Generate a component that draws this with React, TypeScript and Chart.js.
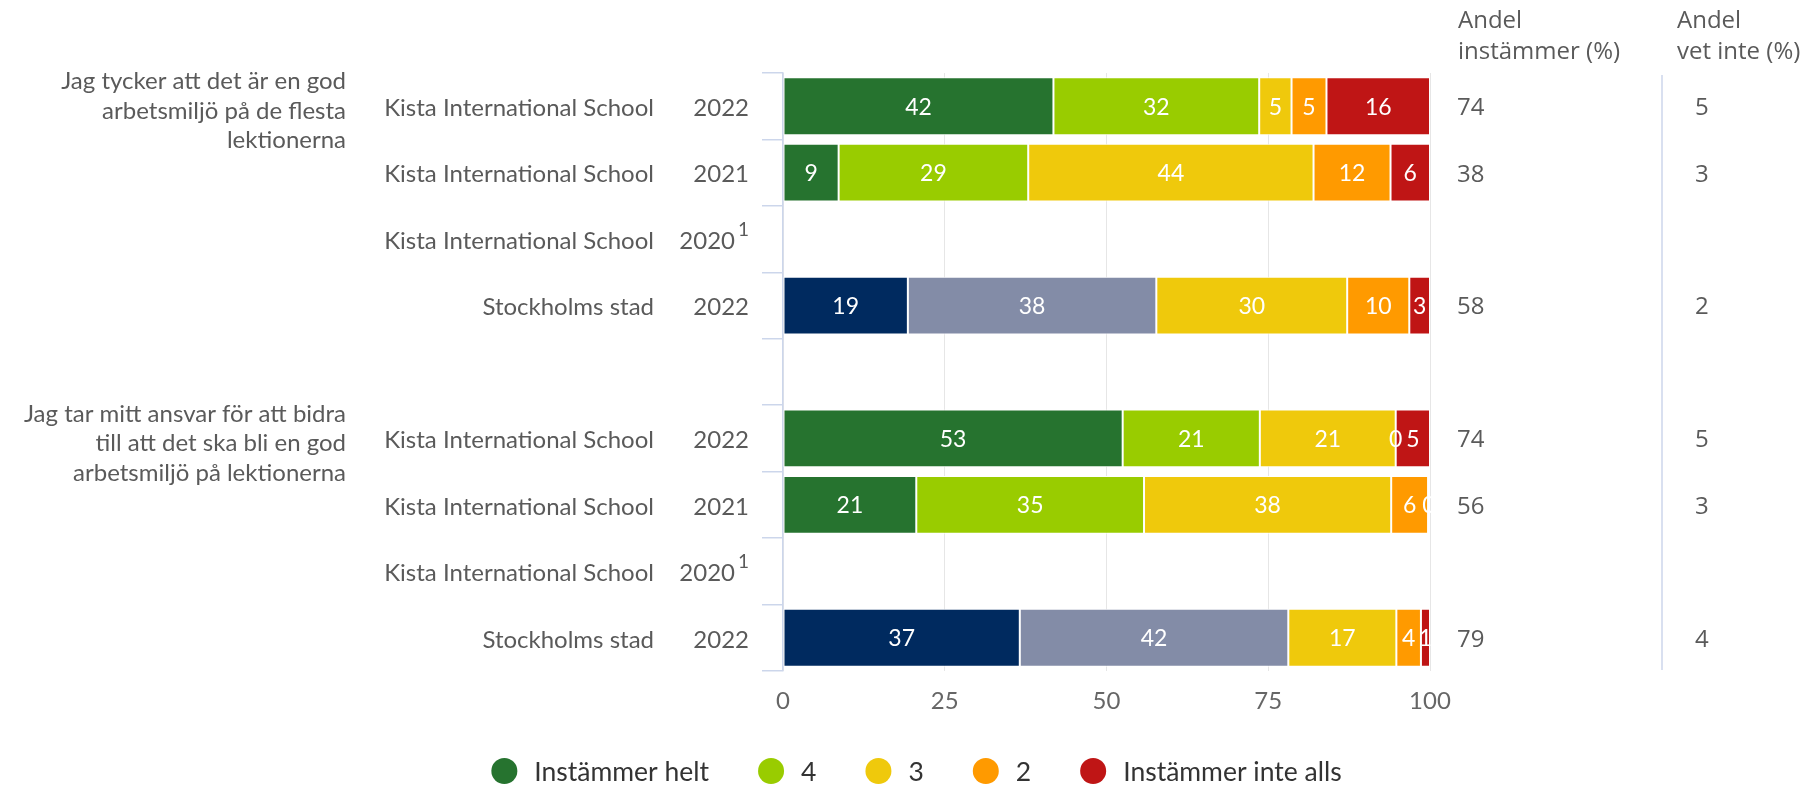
import React, { useEffect, useRef } from "react";
import { Chart, registerables } from "chart.js";

Chart.register(...registerables);

// ---- Data ----
const questionLines: string[][] = [
  ["Jag tycker att det är en god", "arbetsmiljö på de flesta", "lektionerna"],
  ["Jag tar mitt ansvar för att bidra", "till att det ska bli en god", "arbetsmiljö på lektionerna"],
];
const questionRows = [0, 5];

const rowUnits = [
  "Kista International School",
  "Kista International School",
  "Kista International School",
  "Stockholms stad",
  "",
  "Kista International School",
  "Kista International School",
  "Kista International School",
  "Stockholms stad",
];
const rowYears = ["2022", "2021", "2020", "2022", "", "2022", "2021", "2020", "2022"];
const rowFootnote = ["", "", "1", "", "", "", "", "1", ""];
const rowIsCity = [false, false, false, true, false, false, false, false, true];

const seriesNames = ["Instämmer helt", "4", "3", "2", "Instämmer inte alls"];
const seriesColors = ["#26732f", "#99cc00", "#efc90c", "#ff9a00", "#bf1515"];
const cityColors = ["#002a5f", "#838ca7"];

const instammerHelt = [41.8, 8.6, null, 19.3, null, 52.5, 20.6, null, 36.6];
const svar4 = [31.8, 29.3, null, 38.4, null, 21.2, 35.2, null, 41.5];
const svar3 = [5.0, 44.1, null, 29.5, null, 21.0, 38.2, null, 16.7];
const svar2 = [5.4, 11.9, null, 9.6, null, 0, 5.7, null, 3.8];
const instammerInteAlls = [16.0, 6.1, null, 3.2, null, 5.3, 0.3, null, 1.4];

const andelInstammer = [74, 38, null, 58, null, 74, 56, null, 79];
const andelVetInte = [5, 3, null, 2, null, 5, 3, null, 4];

const xTicks = [0, 25, 50, 75, 100];

const colHeaders = [
  ["Andel", "instämmer (%)"],
  ["Andel", "vet inte (%)"],
];

// ---- Style ----
const FONT = "Lato, 'Noto Sans', sans-serif";
const FONT2 = "'Open Sans', 'Noto Sans', sans-serif";
const TEXT = "#5a5a5a";

const seriesData = [instammerHelt, svar4, svar3, svar2, instammerInteAlls];

const overlayPlugin = {
  id: "overlay",
  afterDatasetsDraw(chart: any) {
    const ctx = chart.ctx;
    ctx.save();
    ctx.font = `400 23px ${FONT}`;
    ctx.fillStyle = "#ffffff";
    ctx.textAlign = "center";
    ctx.textBaseline = "middle";
    chart.data.datasets.forEach((ds: any, di: number) => {
      const meta = chart.getDatasetMeta(di);
      meta.data.forEach((el: any, i: number) => {
        const v = ds.data[i];
        if (v == null) return;
        const p = el.getProps(["x", "y", "base"], true);
        ctx.fillText(String(Math.round(v)), (p.x + p.base) / 2, p.y + 1);
      });
    });
    ctx.restore();
  },
  afterDraw(chart: any) {
    const ctx = chart.ctx;
    const ys = chart.scales.y;
    const area = chart.chartArea;
    ctx.save();
    ctx.fillStyle = TEXT;
    ctx.textBaseline = "middle";

    // question labels
    ctx.font = `400 24px ${FONT}`;
    ctx.textAlign = "right";
    questionLines.forEach((lines, qi) => {
      const cy = ys.getPixelForValue(questionRows[qi]);
      const lh = 29.5;
      lines.forEach((ln, li) => {
        ctx.fillText(ln, 346, cy + 5 + (li - (lines.length - 1) / 2) * lh);
      });
    });

    // unit + year labels
    rowUnits.forEach((u, i) => {
      const cy = ys.getPixelForValue(i) + 2;
      ctx.font = `400 24px ${FONT}`;
      ctx.textAlign = "right";
      if (u) ctx.fillText(u, 654, cy);
      const yr = rowYears[i];
      if (yr) {
        let right = 749;
        const fn = rowFootnote[i];
        if (fn) {
          ctx.font = `400 19px ${FONT}`;
          ctx.fillText(fn, right, cy - 11);
          right -= ctx.measureText(fn).width + 3;
          ctx.font = `400 24px ${FONT}`;
        }
        ctx.fillText(yr, right, cy);
      }
    });

    // right-hand columns
    ctx.textAlign = "left";
    ctx.font = `400 24px ${FONT2}`;
    const colX = [1458, 1677];
    const valX = [1457, 1695];
    ctx.textBaseline = "alphabetic";
    colHeaders.forEach((h, ci) => {
      h.forEach((ln, li) => ctx.fillText(ln, colX[ci], 28 + li * 31));
    });
    ctx.textBaseline = "middle";
    [andelInstammer, andelVetInte].forEach((arr, ci) => {
      arr.forEach((v, i) => {
        if (v == null) return;
        ctx.fillText(String(v), valX[ci], ys.getPixelForValue(i) + 2);
      });
    });
    ctx.strokeStyle = "#ccd6eb";
    ctx.lineWidth = 1.5;
    ctx.beginPath();
    ctx.moveTo(1662, area.top + 2);
    ctx.lineTo(1662, area.bottom - 1);
    ctx.stroke();

    // legend
    ctx.font = `400 26.5px ${FONT}`;
    const r = 13;
    const gapText = 30 - r;
    const gapItem = 49;
    const widths = seriesNames.map((n) => 2 * r + gapText + ctx.measureText(n).width);
    const total = widths.reduce((a, b) => a + b, 0) + gapItem * (widths.length - 1);
    let x = 916.5 - total / 2;
    const ly = 771;
    seriesNames.forEach((n, i) => {
      ctx.fillStyle = seriesColors[i];
      ctx.beginPath();
      ctx.arc(x + r, ly, r, 0, Math.PI * 2);
      ctx.fill();
      ctx.fillStyle = "#333333";
      ctx.fillText(n, x + 2 * r + gapText, ly + 1);
      x += widths[i] + gapItem;
    });
    ctx.restore();
  },
};

export default function App() {
  const ref = useRef<HTMLCanvasElement | null>(null);
  useEffect(() => {
    if (!ref.current) return;
    const datasets = seriesData.map((d, si) => ({
      label: seriesNames[si],
      data: d,
      backgroundColor: d.map((_, i) => (rowIsCity[i] && si < 2 ? cityColors[si] : seriesColors[si])),
      borderColor: "#ffffff",
      borderWidth: 1,
      borderSkipped: false,
      categoryPercentage: 1,
      barPercentage: 0.87,
    }));
    const chart = new Chart(ref.current, {
      type: "bar",
      data: { labels: rowUnits.map((u, i) => `${u} ${rowYears[i]}`), datasets },
      options: {
        indexAxis: "y",
        animation: false,
        responsive: false,
        maintainAspectRatio: false,
        layout: { padding: { left: 762, right: 389, top: 73, bottom: 81 } },
        plugins: { legend: { display: false }, tooltip: { enabled: false } },
        scales: {
          x: {
            stacked: true,
            min: 0,
            max: 100,
            afterBuildTicks: (s: any) => {
              s.ticks = xTicks.map((v) => ({ value: v }));
            },
            afterFit: (s: any) => {
              s.height = 40;
            },
            grid: { color: "#e6e6e6", drawTicks: false, tickLength: 0 },
            border: { display: false },
            ticks: { color: "#666666", padding: 16, font: { family: FONT, size: 24 } },
          },
          y: {
            stacked: true,
            afterFit: (s: any) => {
              s.width = 21;
            },
            grid: { drawOnChartArea: false, color: "#ccd6eb", tickLength: 21, offset: true, lineWidth: 1.5 },
            border: { display: true, color: "#ccd6eb", width: 1.5 },
            ticks: { display: false },
          },
        },
      },
      plugins: [overlayPlugin],
    });
    return () => chart.destroy();
  }, []);
  return (
    <div style={{ margin: -8 }}>
      <canvas ref={ref} width={1819} height={792} style={{ display: "block" }} />
    </div>
  );
}
